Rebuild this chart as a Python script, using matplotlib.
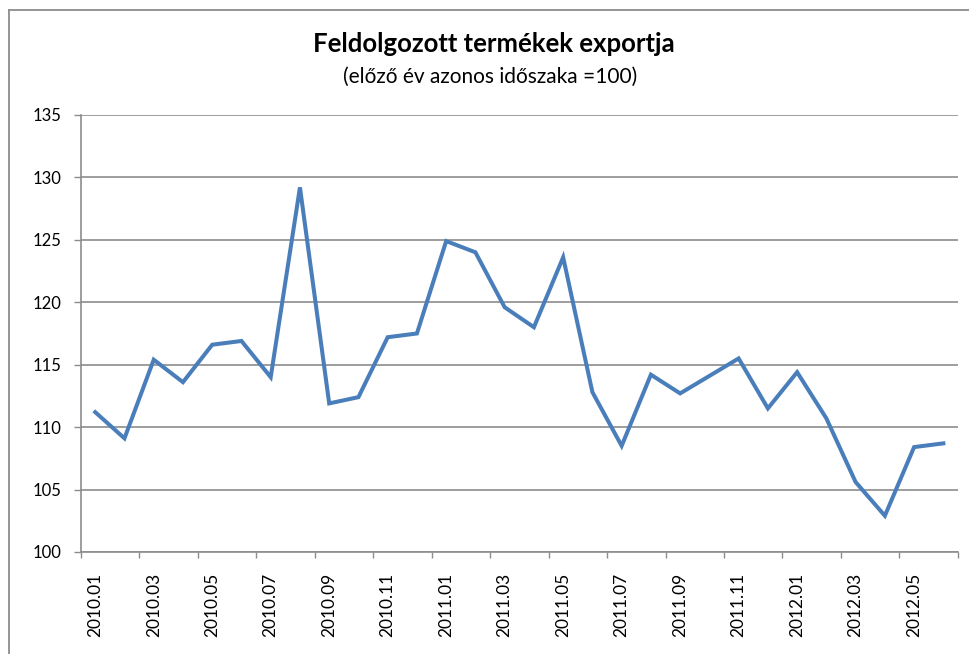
import matplotlib
matplotlib.use("Agg")
import matplotlib.pyplot as plt
from matplotlib.lines import Line2D
import numpy as np

# havi adatok, 2010.01 - 2012.06
months = ["2010.01", "2010.02", "2010.03", "2010.04", "2010.05", "2010.06",
          "2010.07", "2010.08", "2010.09", "2010.10", "2010.11", "2010.12",
          "2011.01", "2011.02", "2011.03", "2011.04", "2011.05", "2011.06",
          "2011.07", "2011.08", "2011.09", "2011.10", "2011.11", "2011.12",
          "2012.01", "2012.02", "2012.03", "2012.04", "2012.05", "2012.06"]
export_index = [111.2, 109.1, 115.4, 113.6, 116.6, 116.9, 114.0, 129.2,
                111.9, 112.4, 117.2, 117.5, 124.9, 124.0, 119.6, 118.0,
                123.6, 112.8, 108.5, 114.2, 112.7, 114.1, 115.5, 111.5,
                114.4, 110.7, 105.6, 102.9, 108.4, 108.7]
y_ticks = [100, 105, 110, 115, 120, 125, 130, 135]

plt.rcParams['font.family'] = ['Lato', 'DejaVu Sans']

fig = plt.figure(figsize=(9.7, 6.54), dpi=100)
ax = fig.add_axes([0.0831, 0.156, 0.9045, 0.6682])

x = np.arange(len(months))
ax.plot(x, export_index, color='#4A7EBB', lw=2.9, solid_joinstyle='miter', zorder=3)

ax.set_xlim(-0.5, len(months) - 0.5)
ax.set_ylim(100, 135)
ax.set_yticks(y_ticks)
ax.set_yticklabels([str(v) for v in y_ticks], fontsize=12)
ax.grid(axis='y', color='#8C8C8C', lw=1.2)
ax.set_axisbelow(True)

# tick marks on category boundaries, labels on odd months
ax.set_xticks(np.arange(-0.5, len(months), 2))
ax.set_xticklabels([])
ax.set_xticks(x[::2], minor=True)
ax.set_xticklabels(months[::2], minor=True, rotation=90, fontsize=12.5)
ax.tick_params(axis='x', which='major', direction='out', length=4.5, color='#8C8C8C', width=1)
ax.tick_params(axis='x', which='minor', length=0, pad=15)
ax.tick_params(axis='y', direction='out', length=4.8, color='#8C8C8C', width=1, pad=9)

for s in ['top', 'right']:
    ax.spines[s].set_visible(False)
for s in ['left', 'bottom']:
    ax.spines[s].set_color('#8C8C8C')
    ax.spines[s].set_linewidth(1.2)

# cím
fig.text(0.509, 0.932, "Feldolgozott termékek exportja", ha='center', va='center',
         fontsize=18.5, fontweight='bold')
fig.text(0.505, 0.882, "(előző év azonos időszaka =100)", ha='center', va='center',
         fontsize=15)

# diagram keret
fig.add_artist(Line2D([0.0093, 0.0093], [0, 0.9847], color='#8C8C8C', lw=1.3))
fig.add_artist(Line2D([0.0093, 1], [0.9847, 0.9847], color='#8C8C8C', lw=1.3))

fig.savefig("out.png", dpi=100)
